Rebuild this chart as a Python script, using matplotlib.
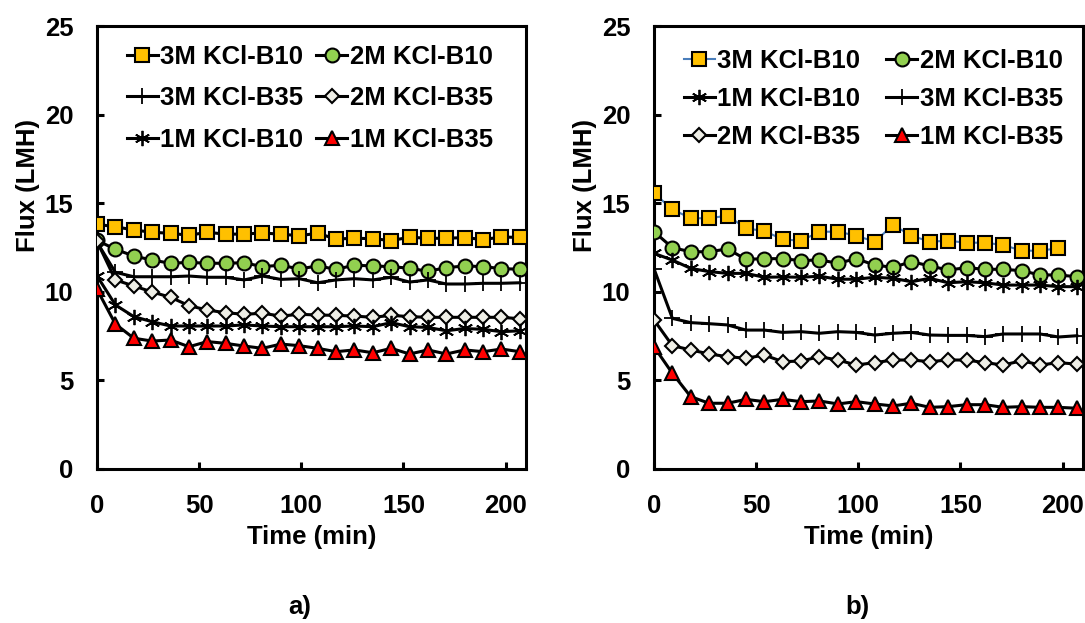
import matplotlib
matplotlib.use("Agg")
import matplotlib.pyplot as plt

plt.rcParams['font.family'] = ['Liberation Sans', 'DejaVu Sans']
plt.rcParams['font.weight'] = 'bold'

# time (min)
t = [0, 9, 18, 27, 36, 45, 54, 63, 72, 81, 90, 99, 108, 117, 126, 135,
     144, 153, 162, 171, 180, 189, 198, 207]

# panel a)
a_3m_b10 = [13.81, 13.67, 13.49, 13.36, 13.30, 13.19, 13.36, 13.25, 13.26, 13.32, 13.25, 13.17,
            13.30, 12.98, 13.02, 13.00, 12.89, 13.08, 13.02, 13.02, 13.06, 12.95, 13.09, 13.07]
a_2m_b10 = [12.90, 12.40, 12.02, 11.79, 11.61, 11.66, 11.61, 11.61, 11.64, 11.42, 11.50, 11.29,
            11.46, 11.27, 11.50, 11.46, 11.42, 11.33, 11.16, 11.36, 11.46, 11.42, 11.31, 11.27]
a_3m_b35 = [12.80, 11.10, 10.85, 10.85, 10.85, 10.89, 10.82, 10.82, 10.67, 10.89, 10.70, 10.74,
            10.51, 10.67, 10.74, 10.67, 10.82, 10.55, 10.67, 10.44, 10.44, 10.48, 10.48, 10.51]
a_2m_b35 = [12.85, 10.67, 10.33, 9.99, 9.69, 9.22, 8.97, 8.82, 8.73, 8.79, 8.63, 8.73,
            8.69, 8.67, 8.63, 8.56, 8.67, 8.60, 8.56, 8.56, 8.56, 8.56, 8.56, 8.48]
a_1m_b10 = [10.90, 9.26, 8.60, 8.31, 8.07, 8.07, 8.07, 8.07, 8.13, 8.07, 8.03, 8.03,
            8.03, 8.03, 8.07, 8.03, 8.26, 8.03, 7.99, 7.80, 7.93, 7.88, 7.75, 7.80]
a_1m_b35 = [10.14, 8.18, 7.38, 7.22, 7.28, 6.90, 7.19, 7.09, 6.94, 6.81, 7.05, 6.96,
            6.81, 6.62, 6.72, 6.56, 6.81, 6.49, 6.72, 6.49, 6.72, 6.62, 6.77, 6.62]

# panel b)
b_3m_b10 = [15.56, 14.65, 14.15, 14.15, 14.30, 13.58, 13.43, 12.96, 12.88, 13.39, 13.39, 13.17,
            12.83, 13.77, 13.17, 12.83, 12.88, 12.77, 12.77, 12.64, 12.32, 12.32, 12.46]
b_2m_b10 = [13.39, 12.49, 12.26, 12.26, 12.42, 11.83, 11.87, 11.87, 11.76, 11.80, 11.61, 11.87,
            11.51, 11.38, 11.70, 11.46, 11.23, 11.36, 11.27, 11.27, 11.19, 10.95, 10.95, 10.85]
b_1m_b10 = [12.17, 11.79, 11.32, 11.14, 11.04, 11.04, 10.82, 10.84, 10.82, 10.88, 10.71, 10.71,
            10.82, 10.76, 10.57, 10.76, 10.51, 10.57, 10.51, 10.38, 10.38, 10.38, 10.29, 10.29]
b_3m_b35 = [11.30, 8.50, 8.26, 8.20, 8.13, 7.84, 7.84, 7.71, 7.75, 7.66, 7.75, 7.71,
            7.56, 7.66, 7.71, 7.56, 7.54, 7.54, 7.47, 7.62, 7.62, 7.62, 7.45, 7.52]
b_2m_b35 = [8.41, 6.96, 6.72, 6.49, 6.34, 6.25, 6.43, 6.06, 6.09, 6.34, 6.15, 5.87,
            6.00, 6.15, 6.15, 6.06, 6.15, 6.15, 6.00, 5.87, 6.11, 5.87, 6.00, 5.92]
b_1m_b35 = [6.90, 5.40, 4.08, 3.71, 3.71, 3.93, 3.80, 3.93, 3.80, 3.84, 3.67, 3.80,
            3.67, 3.56, 3.71, 3.48, 3.52, 3.63, 3.63, 3.48, 3.52, 3.48, 3.48, 3.43]

fs = 18.5
lw = 2.2

styles = {
    '3M KCl-B10': dict(marker='s', ms=10, mfc='#FFC000', mec='black', mew=1.5),
    '2M KCl-B10': dict(marker='o', ms=10, mfc='#92D050', mec='black', mew=1.5),
    '3M KCl-B35': dict(marker='+', ms=11, mfc='black', mec='black', mew=1.3),
    '2M KCl-B35': dict(marker='D', ms=7.5, mfc='#EEEEE6', mec='black', mew=1.5),
    '1M KCl-B10': dict(marker=(6, 2, 0), ms=11, mfc='black', mec='black', mew=1.3),
    '1M KCl-B35': dict(marker='^', ms=10.5, mfc='#FF0000', mec='black', mew=1.5),
}

fig = plt.figure(figsize=(10.85, 6.23), dpi=100)
ax1 = fig.add_axes([97/1085, 1-469/623, 429/1085, 443/623])
ax2 = fig.add_axes([654/1085, 1-469/623, 429/1085, 443/623])

def draw(ax, series, order, leg_anchor, colsp, lsp, tag, tag_x):
    lines = {}
    for name, y, color in series:
        ln, = ax.plot(t[:len(y)], y, color=color, lw=lw if color == 'black' else 1.5,
                      label=name, zorder=3, **styles[name])
        lines[name] = ln
    ax.set_xlim(0, 210)
    ax.set_ylim(0, 25)
    ax.set_xticks([0, 50, 100, 150, 200])
    ax.set_yticks([0, 5, 10, 15, 20, 25])
    for s in ax.spines.values():
        s.set_linewidth(2.2)
    ax.tick_params(direction='in', length=5, width=2.2, labelsize=fs)
    ax.tick_params(axis='y', pad=17)
    ax.tick_params(axis='x', pad=18)
    for lab in ax.get_xticklabels() + ax.get_yticklabels():
        lab.set_fontweight('bold')
    ax.set_xlabel('Time (min)', fontsize=fs, fontweight='bold')
    ax.set_ylabel('Flux (LMH)', fontsize=fs, fontweight='bold')
    ax.xaxis.set_label_coords(0.5, -0.127)
    ax.yaxis.set_label_coords(-0.132, 0.64)
    ax.legend([lines[n] for n in order], order, loc='upper left', bbox_to_anchor=leg_anchor,
              ncol=2, frameon=False, handlelength=1.2, handletextpad=0.1,
              columnspacing=colsp, labelspacing=lsp, borderaxespad=0, borderpad=0,
              prop={'weight': 'bold', 'size': fs})
    fig.text(tag_x, 1-607/623, tag, fontsize=fs, fontweight='bold', ha='center', va='center')

draw(ax1,
     [('3M KCl-B10', a_3m_b10, 'black'), ('2M KCl-B10', a_2m_b10, 'black'),
      ('3M KCl-B35', a_3m_b35, 'black'), ('2M KCl-B35', a_2m_b35, 'black'),
      ('1M KCl-B10', a_1m_b10, 'black'), ('1M KCl-B35', a_1m_b35, 'black')],
     ['3M KCl-B10', '3M KCl-B35', '1M KCl-B10', '2M KCl-B10', '2M KCl-B35', '1M KCl-B35'],
     (0.07, 0.958), 0.5, 0.68, 'a)', 300/1085)

draw(ax2,
     [('3M KCl-B10', b_3m_b10, '#4A7EBB'), ('2M KCl-B10', b_2m_b10, 'black'),
      ('1M KCl-B10', b_1m_b10, 'black'), ('3M KCl-B35', b_3m_b35, 'black'),
      ('2M KCl-B35', b_2m_b35, 'black'), ('1M KCl-B35', b_1m_b35, 'black')],
     ['3M KCl-B10', '1M KCl-B10', '2M KCl-B35', '2M KCl-B10', '3M KCl-B35', '1M KCl-B35'],
     (0.07, 0.948), 1.0, 0.55, 'b)', 857/1085)

fig.savefig('out.png', dpi=100)
